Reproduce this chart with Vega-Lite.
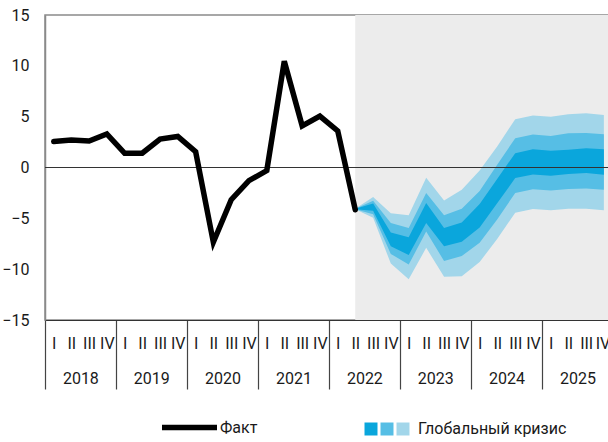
{
  "$schema": "https://vega.github.io/schema/vega-lite/v6.json",
  "width": 568,
  "height": 305,
  "autosize": "none",
  "padding": {"left": 45, "top": 15, "right": 0, "bottom": 122},
  "config": {
    "font": "Roboto",
    "view": {"stroke": "#8a8a8a", "strokeWidth": 1.5},
    "axis": {"labelColor": "#1a1a1a", "labelFontSize": 16, "labelFont": "Roboto"},
    "legend": {"labelColor": "#1a1a1a", "labelFontSize": 16, "labelFont": "Roboto", "padding": 0}
  },
  "datasets": {
    "fact": [
      {"date": "2018-02-15", "v": 2.55, "s": "Факт"}, {"date": "2018-05-16", "v": 2.7, "s": "Факт"}, {"date": "2018-08-16", "v": 2.6, "s": "Факт"}, {"date": "2018-11-15", "v": 3.3, "s": "Факт"},
      {"date": "2019-02-15", "v": 1.4, "s": "Факт"}, {"date": "2019-05-16", "v": 1.4, "s": "Факт"}, {"date": "2019-08-16", "v": 2.8, "s": "Факт"}, {"date": "2019-11-15", "v": 3.05, "s": "Факт"},
      {"date": "2020-02-15", "v": 1.55, "s": "Факт"}, {"date": "2020-05-16", "v": -7.35, "s": "Факт"}, {"date": "2020-08-16", "v": -3.17, "s": "Факт"}, {"date": "2020-11-15", "v": -1.3, "s": "Факт"},
      {"date": "2021-02-15", "v": -0.3, "s": "Факт"}, {"date": "2021-05-16", "v": 10.45, "s": "Факт"}, {"date": "2021-08-16", "v": 4.1, "s": "Факт"}, {"date": "2021-11-15", "v": 5.05, "s": "Факт"},
      {"date": "2022-02-15", "v": 3.6, "s": "Факт"}, {"date": "2022-05-16", "v": -4.15, "s": "Факт"}
    ],
    "fan": [
      {"date": "2022-05-16", "hi3": -4.05, "hi2": -4.05, "hi1": -4.05, "lo1": -4.1, "lo2": -4.1, "lo3": -4.1},
      {"date": "2022-08-16", "hi3": -2.9, "hi2": -3.26, "hi1": -3.55, "lo1": -4.25, "lo2": -4.6, "lo3": -4.95},
      {"date": "2022-11-15", "hi3": -4.5, "hi2": -5.45, "hi1": -6.4, "lo1": -7.75, "lo2": -8.5, "lo3": -9.45},
      {"date": "2023-02-15", "hi3": -4.7, "hi2": -5.95, "hi1": -6.86, "lo1": -8.6, "lo2": -9.55, "lo3": -11.0},
      {"date": "2023-05-16", "hi3": -1.0, "hi2": -2.5, "hi1": -3.5, "lo1": -5.45, "lo2": -6.3, "lo3": -7.9},
      {"date": "2023-08-16", "hi3": -3.25, "hi2": -4.7, "hi1": -5.95, "lo1": -7.75, "lo2": -9.2, "lo3": -10.75},
      {"date": "2023-11-15", "hi3": -2.2, "hi2": -4.05, "hi1": -5.4, "lo1": -7.3, "lo2": -8.7, "lo3": -10.7},
      {"date": "2024-02-15", "hi3": -0.3, "hi2": -2.3, "hi1": -3.6, "lo1": -5.9, "lo2": -7.4, "lo3": -9.3},
      {"date": "2024-05-16", "hi3": 2.1, "hi2": 0.3, "hi1": -1.1, "lo1": -3.5, "lo2": -5.1, "lo3": -7.0},
      {"date": "2024-08-16", "hi3": 4.75, "hi2": 2.88, "hi1": 1.41, "lo1": -1.04, "lo2": -2.5, "lo3": -4.45},
      {"date": "2024-11-15", "hi3": 5.12, "hi2": 3.25, "hi1": 1.8, "lo1": -0.7, "lo2": -2.15, "lo3": -4.08},
      {"date": "2025-02-15", "hi3": 5.0, "hi2": 3.1, "hi1": 1.64, "lo1": -0.81, "lo2": -2.25, "lo3": -4.2},
      {"date": "2025-05-16", "hi3": 5.23, "hi2": 3.37, "hi1": 1.74, "lo1": -0.65, "lo2": -2.12, "lo3": -4.05},
      {"date": "2025-08-16", "hi3": 5.33, "hi2": 3.4, "hi1": 1.9, "lo1": -0.55, "lo2": -2.06, "lo3": -4.05},
      {"date": "2025-11-15", "hi3": 5.17, "hi2": 3.27, "hi1": 1.8, "lo1": -0.72, "lo2": -2.19, "lo3": -4.2}
    ],
    "shade": [{"start": "2022-05-16", "end": "2026-01-01"}],
    "zero": [{"v": 0}]
  },
  "resolve": {"axis": {"x": "independent"}},
  "layer": [
    {
      "data": {"name": "shade"},
      "mark": {"type": "rect", "color": "#ececec"},
      "encoding": {
        "x": {
          "field": "start", "type": "temporal",
          "scale": {"type": "utc", "domain": [{"year": 2018, "month": 1, "date": 1, "utc": true}, {"year": 2026, "month": 1, "date": 1, "utc": true}], "nice": false},
          "axis": {
            "orient": "bottom",
            "values": [
              {"year": 2018, "month": 1, "date": 1, "utc": true}, {"year": 2019, "month": 1, "date": 1, "utc": true},
              {"year": 2020, "month": 1, "date": 1, "utc": true}, {"year": 2021, "month": 1, "date": 1, "utc": true},
              {"year": 2022, "month": 1, "date": 1, "utc": true}, {"year": 2023, "month": 1, "date": 1, "utc": true},
              {"year": 2024, "month": 1, "date": 1, "utc": true}, {"year": 2025, "month": 1, "date": 1, "utc": true}
            ],
            "labels": false, "grid": false, "title": null,
            "tickSize": 69, "tickColor": "#444", "tickWidth": 1.2,
            "domainColor": "#333", "domainWidth": 1.2
          }
        },
        "x2": {"field": "end"}
      }
    },
    {
      "data": {"name": "fan"},
      "mark": {"type": "area"},
      "encoding": {
        "x": {
          "field": "date", "type": "temporal",
          "axis": {
            "orient": "bottom",
            "values": [
              {"year": 2018, "month": 2, "date": 15, "utc": true}, {"year": 2018, "month": 5, "date": 16, "utc": true}, {"year": 2018, "month": 8, "date": 16, "utc": true}, {"year": 2018, "month": 11, "date": 15, "utc": true},
              {"year": 2019, "month": 2, "date": 15, "utc": true}, {"year": 2019, "month": 5, "date": 16, "utc": true}, {"year": 2019, "month": 8, "date": 16, "utc": true}, {"year": 2019, "month": 11, "date": 15, "utc": true},
              {"year": 2020, "month": 2, "date": 15, "utc": true}, {"year": 2020, "month": 5, "date": 16, "utc": true}, {"year": 2020, "month": 8, "date": 16, "utc": true}, {"year": 2020, "month": 11, "date": 15, "utc": true},
              {"year": 2021, "month": 2, "date": 15, "utc": true}, {"year": 2021, "month": 5, "date": 16, "utc": true}, {"year": 2021, "month": 8, "date": 16, "utc": true}, {"year": 2021, "month": 11, "date": 15, "utc": true},
              {"year": 2022, "month": 2, "date": 15, "utc": true}, {"year": 2022, "month": 5, "date": 16, "utc": true}, {"year": 2022, "month": 8, "date": 16, "utc": true}, {"year": 2022, "month": 11, "date": 15, "utc": true},
              {"year": 2023, "month": 2, "date": 15, "utc": true}, {"year": 2023, "month": 5, "date": 16, "utc": true}, {"year": 2023, "month": 8, "date": 16, "utc": true}, {"year": 2023, "month": 11, "date": 15, "utc": true},
              {"year": 2024, "month": 2, "date": 15, "utc": true}, {"year": 2024, "month": 5, "date": 16, "utc": true}, {"year": 2024, "month": 8, "date": 16, "utc": true}, {"year": 2024, "month": 11, "date": 15, "utc": true},
              {"year": 2025, "month": 2, "date": 15, "utc": true}, {"year": 2025, "month": 5, "date": 16, "utc": true}, {"year": 2025, "month": 8, "date": 16, "utc": true}, {"year": 2025, "month": 11, "date": 8, "utc": true}
            ],
            "labelExpr": "['I','II','III','IV'][floor(utcmonth(datum.value)/3)]",
            "ticks": false, "domain": false, "grid": false, "title": null,
            "labelPadding": 23, "labelBaseline": "middle", "labelAlign": "center", "labelOverlap": false, "labelFlush": false
          }
        },
        "y": {
          "field": "lo3", "type": "quantitative",
          "scale": {"domain": [-15, 15], "nice": false, "zero": false},
          "axis": {"values": [-15, -10, -5, 0, 5, 10, 15], "ticks": false, "grid": false, "title": null, "labelPadding": 16, "domainColor": "#8a8a8a", "domainWidth": 1.5, "labelFlush": false}
        },
        "y2": {"field": "hi3"},
        "fill": {
          "datum": "k3",
          "scale": {"domain": ["k1", "k2", "k3"], "range": ["#0aa6dc", "#56bee5", "#a2d6ea"]},
          "legend": {
            "orient": "none", "legendX": 318, "legendY": 406, "direction": "horizontal", "columns": 3,
            "title": null, "symbolType": "square", "symbolSize": 169, "symbolStrokeWidth": 0,
            "columnPadding": -3, "labelOffset": 0, "symbolOffset": 0,
            "labelExpr": "datum.value == 'k3' ? 'Глобальный кризис' : ''",
            "encode": {
              "symbols": {"update": {"fill": {"signal": "datum.value == 'k1' ? '#00aeea' : datum.value == 'k2' ? '#58c8f1' : '#a9e1f6'"}, "opacity": {"value": 1}}},
              "labels": {"update": {"dx": {"signal": "datum.value == 'k3' ? 7 : 0"}}}
            }
          }
        }
      }
    },
    {
      "data": {"name": "fan"},
      "mark": {"type": "area"},
      "encoding": {
        "x": {"field": "date", "type": "temporal", "axis": null},
        "y": {"field": "lo2", "type": "quantitative"},
        "y2": {"field": "hi2"},
        "fill": {"datum": "k2"}
      }
    },
    {
      "data": {"name": "fan"},
      "mark": {"type": "area"},
      "encoding": {
        "x": {"field": "date", "type": "temporal", "axis": null},
        "y": {"field": "lo1", "type": "quantitative"},
        "y2": {"field": "hi1"},
        "fill": {"datum": "k1"}
      }
    },
    {
      "data": {"name": "zero"},
      "mark": {"type": "rule", "color": "#333", "strokeWidth": 1.2},
      "encoding": {"y": {"field": "v", "type": "quantitative"}}
    },
    {
      "data": {"name": "fact"},
      "mark": {"type": "line", "strokeWidth": 5.5, "strokeJoin": "miter", "strokeCap": "round"},
      "encoding": {
        "x": {
          "field": "date", "type": "temporal",
          "axis": {
            "orient": "bottom",
            "values": [
              {"year": 2018, "month": 7, "date": 2, "utc": true}, {"year": 2019, "month": 7, "date": 2, "utc": true},
              {"year": 2020, "month": 7, "date": 2, "utc": true}, {"year": 2021, "month": 7, "date": 2, "utc": true},
              {"year": 2022, "month": 7, "date": 2, "utc": true}, {"year": 2023, "month": 7, "date": 2, "utc": true},
              {"year": 2024, "month": 7, "date": 2, "utc": true}, {"year": 2025, "month": 7, "date": 2, "utc": true}
            ],
            "labelExpr": "'' + utcyear(datum.value)",
            "ticks": false, "domain": false, "grid": false, "title": null,
            "labelPadding": 58, "labelBaseline": "middle", "labelAlign": "center", "labelOverlap": false, "labelFlush": false
          }
        },
        "y": {"field": "v", "type": "quantitative"},
        "stroke": {
          "field": "s", "type": "nominal",
          "scale": {"range": ["#000000"]},
          "legend": {
            "orient": "none", "legendX": 114, "legendY": 382, "title": null,
            "symbolType": "stroke", "symbolSize": 3025, "symbolStrokeWidth": 5.5, "labelOffset": 0, "symbolOffset": 0
          }
        }
      }
    }
  ]
}
